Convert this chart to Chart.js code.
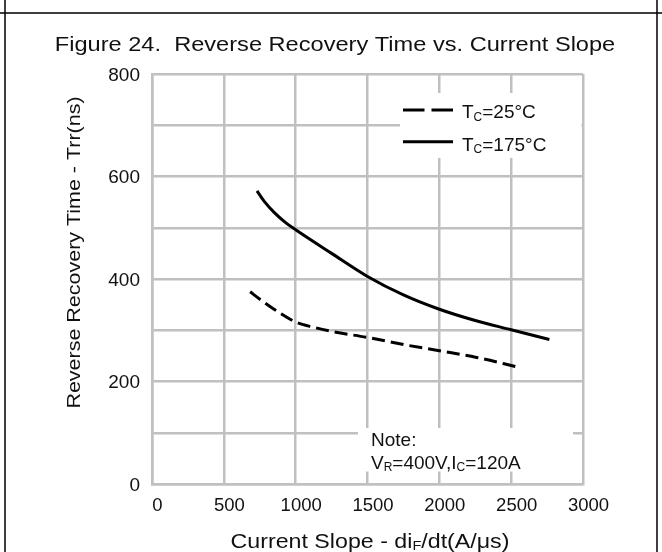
<!DOCTYPE html>
<html>
<head>
<meta charset="utf-8">
<script src="https://cdn.jsdelivr.net/npm/chart.js@4.4.1/dist/chart.umd.min.js"></script>
<style>
  html, body { margin: 0; padding: 0; background: #fff; }
  canvas { display: block; }
</style>
</head>
<body>
<canvas id="trrChart" width="662" height="552"></canvas>
<script>
// Courbe Tc=25°C (tirets)
const slope25 = [683, 753, 844, 1000, 1122, 1263, 1500, 1772, 2000, 2259, 2547];
const trr25 = [375, 360, 342, 316, 306, 297, 286, 271, 260, 247, 228];

// Courbe Tc=175°C (trait plein)
const slope175 = [731, 780, 850, 930, 1000, 1250, 1500, 1750, 2000, 2250, 2500, 2766];
const trr175 = [572, 552, 530, 510, 496, 450, 405, 369, 341, 319, 301, 282];

// Graduations
const xTicks = [0, 500, 1000, 1500, 2000, 2500, 3000];
const yTicks = [0, 200, 400, 600, 800];

const FONT = '"Liberation Sans", Arial, sans-serif';
const GRID = '#c0c0c0';
const TXT = '#111';

// Dessiner un texte avec indices (T_C, V_R ...), étiré horizontalement si besoin
function drawRich(ctx, parts, x, y, size, align, stretch) {
    const sx = stretch || 1;
    const widths = parts.map(([txt, sub]) => {
        ctx.font = (sub ? size * 0.63 : size) + 'px ' + FONT;
        return ctx.measureText(txt).width;
    });
    const total = widths.reduce((a, b) => a + b, 0);
    ctx.save();
    ctx.translate(x, y);
    ctx.scale(sx, 1);
    let cx = align === 'center' ? -total / 2 : 0;
    ctx.textAlign = 'left';
    ctx.textBaseline = 'alphabetic';
    parts.forEach(([txt, sub], i) => {
        ctx.font = (sub ? size * 0.63 : size) + 'px ' + FONT;
        ctx.fillText(txt, cx, sub ? size * 0.12 : 0);
        cx += widths[i];
    });
    ctx.restore();
}

// Cadre, titre, légende et note
const decorPlugin = {
    id: 'decor',
    beforeDraw(chart) {
        const ctx = chart.ctx;
        ctx.save();
        ctx.fillStyle = '#fff';
        ctx.fillRect(0, 0, chart.width, chart.height);
        ctx.strokeStyle = '#000';
        ctx.lineWidth = 1.5;
        ctx.beginPath();
        ctx.moveTo(0, 13); ctx.lineTo(chart.width, 13);
        ctx.moveTo(5, 0); ctx.lineTo(5, chart.height);
        ctx.moveTo(chart.width - 5, 0); ctx.lineTo(chart.width - 5, chart.height);
        ctx.stroke();
        ctx.restore();
    },
    beforeDatasetsDraw(chart) {
        const ctx = chart.ctx;
        const ca = chart.chartArea;
        ctx.save();
        ctx.fillStyle = '#fff';
        // boîte de légende
        ctx.fillRect(ca.left + 248, ca.top + 19, ca.right - 1.5 - (ca.left + 248), 65);
        // boîte de note
        ctx.fillRect(ca.left + 206, ca.bottom - 56, 215, 43.5);
        ctx.restore();
    },
    afterDraw(chart) {
        const ctx = chart.ctx;
        const ca = chart.chartArea;
        ctx.save();
        ctx.fillStyle = TXT;

        // Titre
        drawRich(ctx, [['Figure 24.  Reverse Recovery Time vs. Current Slope', 0]], 335, 50.5, 20, 'center', 1.18);

        // Titre de l'axe Y
        ctx.save();
        ctx.translate(80, 252.5);
        ctx.rotate(-Math.PI / 2);
        drawRich(ctx, [['Reverse Recovery Time - Trr(ns)', 0]], 0, 0, 19, 'center', 1.13);
        ctx.restore();

        // Titre de l'axe X
        drawRich(ctx, [['Current Slope - di', 0], ['F', 1], ['/dt(A/μs)', 0]], 370, 548, 20, 'center', 1.16);

        // Légende
        const lx = ca.left + 251;
        ctx.strokeStyle = '#000';
        ctx.lineWidth = 3;
        ctx.setLineDash([21.5, 7]);
        ctx.beginPath();
        ctx.moveTo(lx, ca.top + 36); ctx.lineTo(lx + 50, ca.top + 36);
        ctx.stroke();
        ctx.setLineDash([]);
        ctx.beginPath();
        ctx.moveTo(lx, ca.top + 67.7); ctx.lineTo(lx + 50, ca.top + 67.7);
        ctx.stroke();
        drawRich(ctx, [['T', 0], ['C', 1], ['=25°C', 0]], lx + 59, ca.top + 44.3, 19);
        drawRich(ctx, [['T', 0], ['C', 1], ['=175°C', 0]], lx + 59, ca.top + 76.7, 19);

        // Note
        drawRich(ctx, [['Note:', 0]], ca.left + 219, ca.bottom - 38, 19);
        drawRich(ctx, [['V', 0], ['R', 1], ['=400V,I', 0], ['C', 1], ['=120A', 0]], ca.left + 219, ca.bottom - 15.5, 19);
        ctx.restore();
    }
};

const ctx = document.getElementById('trrChart').getContext('2d');

new Chart(ctx, {
    type: 'line',
    data: {
        datasets: [
            {
                label: 'TC=25°C',
                data: slope25.map((x, i) => ({ x: x, y: trr25[i] })),
                borderColor: '#000',
                borderWidth: 3,
                borderDash: [13, 6],
                pointRadius: 0,
                cubicInterpolationMode: 'monotone',
                fill: false
            },
            {
                label: 'TC=175°C',
                data: slope175.map((x, i) => ({ x: x, y: trr175[i] })),
                borderColor: '#000',
                borderWidth: 3,
                pointRadius: 0,
                cubicInterpolationMode: 'monotone',
                fill: false
            }
        ]
    },
    options: {
        responsive: false,
        animation: false,
        devicePixelRatio: 1,
        layout: {
            padding: { top: 74, right: 79, left: 0, bottom: 0 }
        },
        plugins: {
            legend: { display: false },
            tooltip: { enabled: false },
            title: { display: false }
        },
        scales: {
            x: {
                type: 'linear',
                min: 0,
                max: 3000,
                afterFit: s => { s.height = 68; },
                afterBuildTicks: s => { s.ticks = xTicks.map(v => ({ value: v })); },
                grid: { color: GRID, lineWidth: 2.5, drawTicks: false },
                border: { color: GRID, width: 2.5 },
                ticks: {
                    padding: 11,
                    labelOffset: 5.5,
                    color: TXT,
                    autoSkip: false,
                    maxRotation: 0,
                    font: { family: FONT, size: 18.5 },
                    callback: v => String(v)
                }
            },
            y: {
                type: 'linear',
                min: 0,
                max: 800,
                afterFit: s => { s.width = 152; },
                grid: { color: GRID, lineWidth: 2.5, drawTicks: false },
                border: { color: GRID, width: 2.5 },
                ticks: {
                    stepSize: 100,
                    padding: 12,
                    labelOffset: 1.5,
                    color: TXT,
                    autoSkip: false,
                    font: { family: FONT, size: 19 },
                    callback: v => (yTicks.includes(v) ? String(v) : '')
                }
            }
        }
    },
    plugins: [decorPlugin]
});
</script>
</body>
</html>
